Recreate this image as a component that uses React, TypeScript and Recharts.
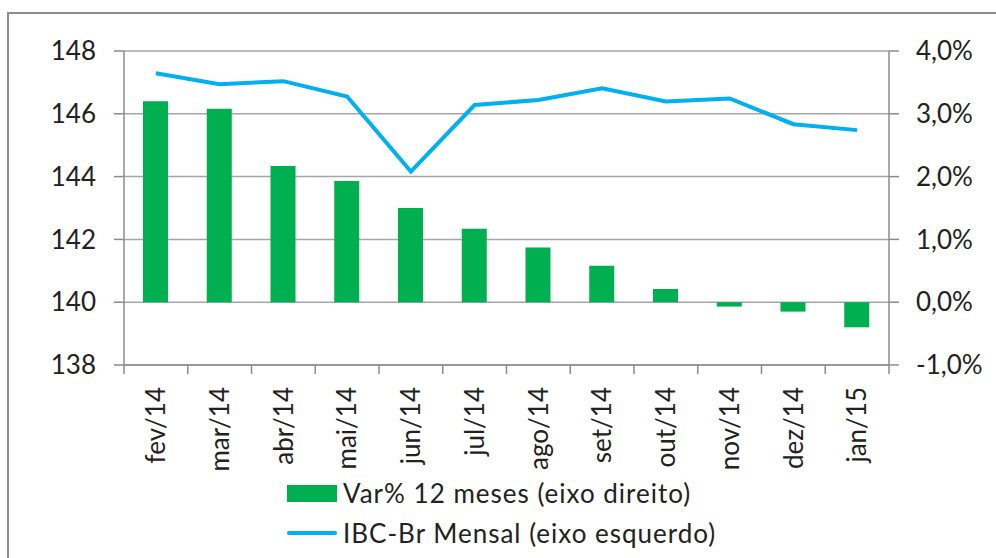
import { ComposedChart, Bar, Line, XAxis, YAxis, CartesianGrid, Legend } from 'recharts'

const months = ['fev/14', 'mar/14', 'abr/14', 'mai/14', 'jun/14', 'jul/14', 'ago/14', 'set/14', 'out/14', 'nov/14', 'dez/14', 'jan/15']
const ibcBrMensal = [147.29, 146.94, 147.04, 146.55, 144.16, 146.28, 146.44, 146.81, 146.39, 146.49, 145.67, 145.48]
const var12Meses = [3.2, 3.08, 2.17, 1.93, 1.5, 1.17, 0.87, 0.58, 0.21, -0.07, -0.15, -0.4]
const leftTicks = [138, 140, 142, 144, 146, 148]
const rightTicks = [-1, 0, 1, 2, 3, 4]

const data = months.map((m, i) => ({ month: m, ibc: ibcBrMensal[i], var: var12Meses[i] }))

const FONT = 'Lato, "Noto Sans", sans-serif'
const AXIS_GRAY = '#8C8C8C'
const GREEN = '#00B050'
const BLUE = '#00B0F0'

function MonthTick(props: any) {
  const { x, y, payload, index } = props
  const off = payload?.offset ?? 32
  return (
    <g>
      <line x1={x - off} y1={y} x2={x - off} y2={y + 9} stroke={AXIS_GRAY} strokeWidth={1.5} />
      {index === months.length - 1 && (
        <line x1={x + off} y1={y} x2={x + off} y2={y + 9} stroke={AXIS_GRAY} strokeWidth={1.5} />
      )}
      <text
        x={x}
        y={y + 22}
        dy="0.36em"
        transform={`rotate(-90 ${x} ${y + 22})`}
        textAnchor="end"
        fill="#222"
        fontSize={26}
        fontFamily={FONT}
      >
        {payload.value}
      </text>
    </g>
  )
}

function ChartLegend() {
  const row = { display: 'flex', alignItems: 'center', height: 40, fontSize: 26, fontFamily: FONT, color: '#222', letterSpacing: 1 }
  return (
    <div>
      <div style={row}>
        <span style={{ width: 50, height: 17, background: GREEN, marginRight: 6 }} />
        Var% 12 meses (eixo direito)
      </div>
      <div style={row}>
        <span style={{ width: 50, height: 4, borderRadius: 2, background: BLUE, marginRight: 6 }} />
        IBC-Br Mensal (eixo esquerdo)
      </div>
    </div>
  )
}

export default function App() {
  return (
    <div style={{ position: 'absolute', left: 0, top: 0, width: 996, height: 558, background: '#fff', overflow: 'hidden' }}>
      <div style={{ position: 'absolute', left: 7, top: 12, width: 1100, height: 700, borderTop: `2px solid ${AXIS_GRAY}`, borderLeft: `2px solid ${AXIS_GRAY}` }} />
      <div style={{ position: 'absolute', left: 0, top: 0 }}>
        <ComposedChart width={996} height={558} data={data} margin={{ top: 51, right: 0, bottom: 73, left: 0 }}>
          <CartesianGrid yAxisId="left" vertical={false} stroke="#A6A6A6" strokeWidth={1.5} />
          <XAxis
            dataKey="month"
            height={120}
            interval={0}
            tickLine={false}
            tickSize={0}
            tickMargin={0}
            axisLine={{ stroke: AXIS_GRAY, strokeWidth: 1.5 }}
            tick={<MonthTick />}
          />
          <YAxis
            yAxisId="left"
            width={124}
            domain={[138, 148]}
            ticks={leftTicks}
            tickSize={10}
            tickMargin={18}
            tick={{ fill: '#222', fontSize: 26, fontFamily: FONT }}
            tickLine={{ stroke: AXIS_GRAY, strokeWidth: 1.5 }}
            axisLine={{ stroke: AXIS_GRAY, strokeWidth: 1.5 }}
            allowDataOverflow
          />
          <YAxis
            yAxisId="right"
            orientation="right"
            width={107}
            domain={[-1, 4]}
            ticks={rightTicks}
            tickSize={10}
            tickMargin={17}
            tickFormatter={(v: number) => `${v.toFixed(1).replace('.', ',')}%`}
            tick={{ fill: '#222', fontSize: 26, fontFamily: FONT }}
            tickLine={{ stroke: AXIS_GRAY, strokeWidth: 1.5 }}
            axisLine={{ stroke: AXIS_GRAY, strokeWidth: 1.5 }}
            allowDataOverflow
          />
          <Legend
            layout="vertical"
            align="center"
            verticalAlign="middle"
            wrapperStyle={{ top: 473, left: 287, width: 500 }}
            content={<ChartLegend />}
          />
          <Bar yAxisId="right" dataKey="var" name="Var% 12 meses (eixo direito)" fill={GREEN} barSize={25} isAnimationActive={false} />
          <Line
            yAxisId="left"
            dataKey="ibc"
            name="IBC-Br Mensal (eixo esquerdo)"
            type="linear"
            stroke={BLUE}
            strokeWidth={4}
            dot={false}
            isAnimationActive={false}
          />
        </ComposedChart>
      </div>
    </div>
  )
}
